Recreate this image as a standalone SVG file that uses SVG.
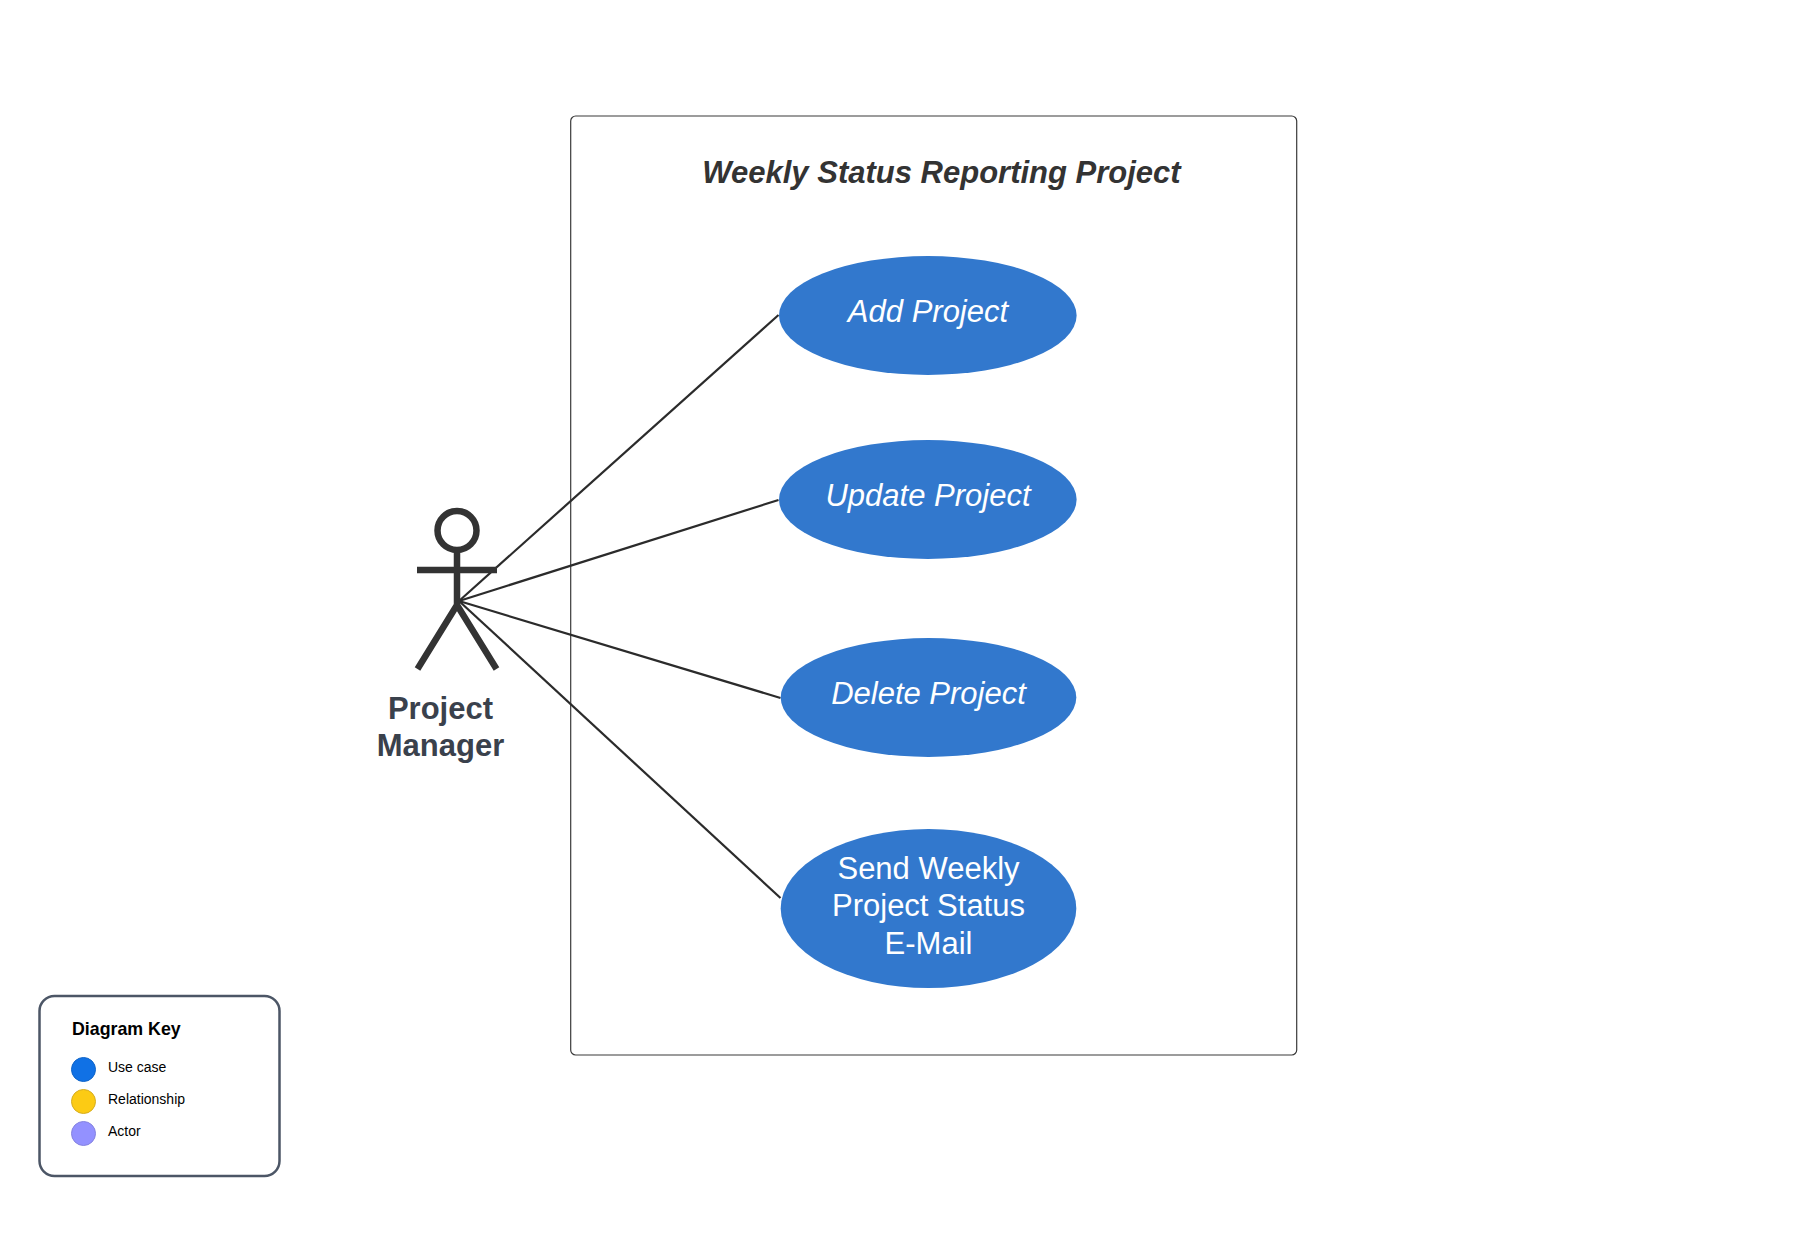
<svg xmlns="http://www.w3.org/2000/svg" width="1797" height="1250" viewBox="0 0 1797 1250">
<style>
text{font-family:"Liberation Sans",Arial,sans-serif}
.uc{fill:#3278cd}
.ut{fill:#fff;font-size:31px;text-anchor:middle}
.i{font-style:italic}
.ln{stroke:#2b2b2b;stroke-width:2.2;fill:none}
.ac{stroke:#333;stroke-width:6.500;fill:none}
.k{font-size:14px;fill:#000}
.dot{stroke-width:1}
</style>
<rect width="1797" height="1250" fill="#fff"/>
<g id="system"><rect x="570.7" y="116" width="726" height="939" rx="5" fill="#fff" stroke="#3a3a3a" stroke-width="1.2"/>
<text x="941.5" y="183" text-anchor="middle" font-size="31" font-weight="bold" font-style="italic" fill="#333">Weekly Status Reporting Project</text></g>
<g id="connectors">
<line class="ln" x1="459" y1="601" x2="778.500" y2="315"/>
<line class="ln" x1="459" y1="601" x2="778.500" y2="500"/>
<line class="ln" x1="459" y1="601" x2="780.500" y2="698"/>
<line class="ln" x1="459" y1="601" x2="780.500" y2="898"/>
</g>
<g id="actor">
<circle class="ac" cx="457" cy="530.500" r="19.500"/>
<path class="ac" d="M457 551V605M417 570H497M457 605L417.500 669M457 605L496.500 669"/>
<text x="440.500" y="718.500" text-anchor="middle" font-size="31" font-weight="bold" fill="#3a414c">Project</text>
<text x="440.500" y="755.500" text-anchor="middle" font-size="31" font-weight="bold" fill="#3a414c">Manager</text>
</g>
<g id="add-project"><ellipse class="uc" cx="927.800" cy="315.500" rx="148.800" ry="59.500"/><text class="ut i" x="928" y="322">Add Project</text></g>
<g id="update-project"><ellipse class="uc" cx="927.800" cy="499.500" rx="148.800" ry="59.500"/><text class="ut i" x="928" y="506">Update Project</text></g>
<g id="delete-project"><ellipse class="uc" cx="928.500" cy="697.500" rx="147.800" ry="59.500"/><text class="ut i" x="928.500" y="703.500">Delete Project</text></g>
<g id="send-email"><ellipse class="uc" cx="928.500" cy="908.500" rx="147.800" ry="79.500"/>
<text class="ut" x="928.500" y="879">Send Weekly</text><text class="ut" x="928.500" y="916">Project Status</text><text class="ut" x="928.500" y="953.500">E-Mail</text></g>
<g id="legend">
<rect x="39.500" y="996" width="240" height="180" rx="15" fill="#fff" stroke="#4c5666" stroke-width="2.500"/>
<text x="72" y="1035" font-size="17.800" font-weight="bold" fill="#000">Diagram Key</text>
<circle class="dot" cx="83.500" cy="1069.500" r="12" fill="#1071e5" stroke="#0f64c8"/>
<text class="k" x="108" y="1072">Use case</text>
<circle class="dot" cx="83.500" cy="1101.500" r="12" fill="#fccb14" stroke="#d6ad20"/>
<text class="k" x="108" y="1104">Relationship</text>
<circle class="dot" cx="83.500" cy="1133.500" r="12" fill="#9391ff" stroke="#8583e0"/>
<text class="k" x="108" y="1136">Actor</text>
</g>
</svg>
